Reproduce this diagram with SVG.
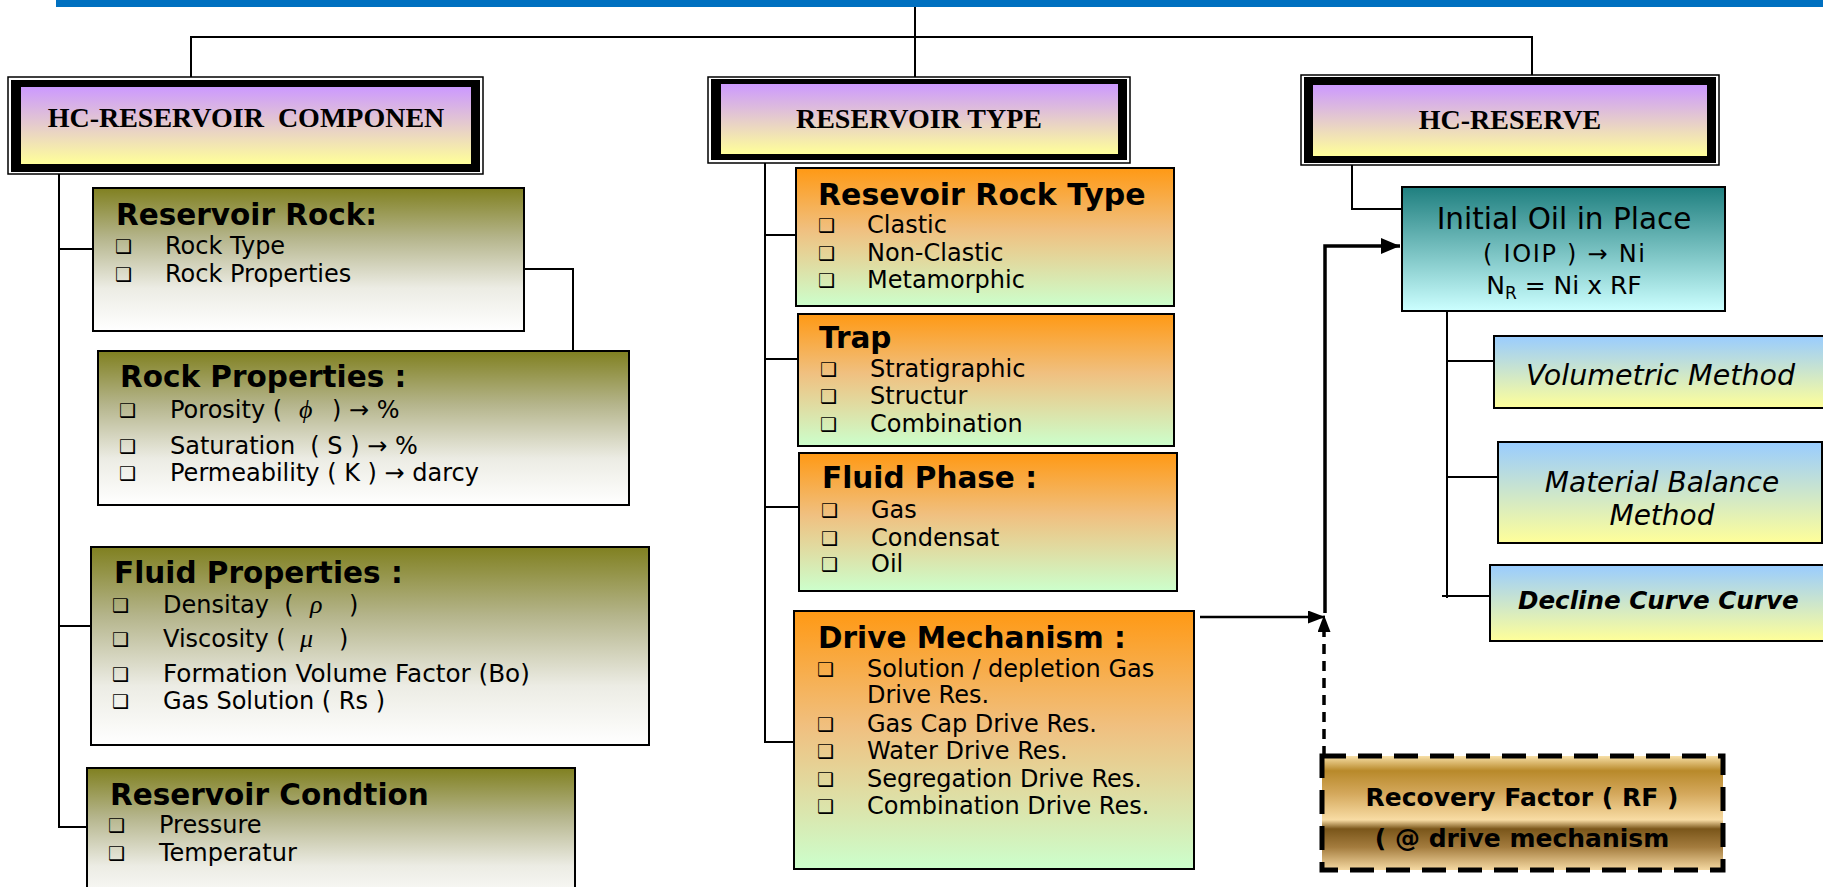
<svg xmlns="http://www.w3.org/2000/svg" width="1823" height="887" viewBox="0 0 1823 887">
<style>
.t{font-family:"DejaVu Sans",Verdana,sans-serif;font-size:24px;fill:#000;white-space:pre}
.h{font-weight:bold;font-size:29.5px}
.bl{font-family:"DejaVu Sans",sans-serif;font-size:19px;fill:#000}
.hd{font-family:"Liberation Serif","Times New Roman",serif;font-weight:bold;font-size:28px;text-anchor:middle;fill:#000;white-space:pre}
.gk{font-family:"Liberation Serif","Times New Roman",serif;font-style:italic;font-size:26px}
.ln{stroke:#000;stroke-width:2;fill:none}
.bx{stroke:#000;stroke-width:2}
.thin{fill:#fff;stroke:#000;stroke-width:1.5}
.mid{text-anchor:middle}
</style>
<defs>
<linearGradient id="gPur" x1="0" y1="0" x2="0" y2="1"><stop offset="0" stop-color="#CC99FF"/><stop offset="1" stop-color="#FFFF99"/></linearGradient>
<linearGradient id="gOl" x1="0" y1="0" x2="0" y2="1"><stop offset="0" stop-color="#808020"/><stop offset="0.35" stop-color="#B5B58C"/><stop offset="0.7" stop-color="#ECECE4"/><stop offset="1" stop-color="#FFFFFF"/></linearGradient>
<linearGradient id="gOr" x1="0" y1="0" x2="0" y2="1"><stop offset="0" stop-color="#FF9914"/><stop offset="0.45" stop-color="#F0C080"/><stop offset="1" stop-color="#CCFFCC"/></linearGradient>
<linearGradient id="gTe" x1="0" y1="0" x2="0" y2="1"><stop offset="0" stop-color="#1F7F7F"/><stop offset="1" stop-color="#CCFFFF"/></linearGradient>
<linearGradient id="gBl" x1="0" y1="0" x2="0" y2="1"><stop offset="0" stop-color="#99CCFF"/><stop offset="1" stop-color="#FFFF99"/></linearGradient>
<linearGradient id="gGo" x1="0" y1="0" x2="0" y2="1"><stop offset="0" stop-color="#F8E0A8"/><stop offset="0.13" stop-color="#B8892A"/><stop offset="0.33" stop-color="#D4A85C"/><stop offset="0.56" stop-color="#F8DCA4"/><stop offset="0.64" stop-color="#7A561A"/><stop offset="0.8" stop-color="#A47C3E"/><stop offset="1" stop-color="#F5D9A2"/></linearGradient>
<marker id="aThin" markerUnits="userSpaceOnUse" markerWidth="17" markerHeight="13" refX="17" refY="6.5" orient="auto"><path d="M0,0 L17,6.5 L0,13 z" fill="#000"/></marker>
<marker id="aThick" markerUnits="userSpaceOnUse" markerWidth="19" markerHeight="16" refX="19" refY="8" orient="auto"><path d="M0,0 L19,8 L0,16 z" fill="#000"/></marker>
</defs>
<rect x="0" y="0" width="1823" height="887" fill="#fff"/>
<rect id="topbar" x="56" y="0" width="1767" height="7" fill="#0070C0"/>

<g id="connectors">
<path class="ln" d="M915,7 V77 M191,77 V37 H1532 V77"/>
<path class="ln" d="M59,174 V828 M59,249 H93 M59,626 H91 M59,827 H87 M524,269 H573 V351"/>
<path class="ln" d="M765,163 V742 H794 M765,235 H796 M765,359 H802 M765,507 H800"/>
<path class="ln" d="M1352,165 V209 H1402 M1447,311 V598 M1447,361 H1494 M1447,477 H1498 M1442,596 H1490"/>
<path d="M1200,617 H1325" stroke="#000" stroke-width="2.5" fill="none" marker-end="url(#aThin)"/>
<path d="M1325,613 V246 H1400" stroke="#000" stroke-width="3.5" fill="none" marker-end="url(#aThick)"/>
<path d="M1324,756 V632" stroke="#000" stroke-width="3.5" stroke-dasharray="10 7" fill="none"/>
<path d="M1324,640 V615" stroke="none" fill="none" marker-end="url(#aThin)"/>
</g>

<g id="hc-reservoir-componen">
<rect class="thin" x="8" y="77" width="475" height="97"/>
<rect x="11" y="80" width="469" height="92" fill="#000"/>
<rect x="21" y="87" width="450" height="77" fill="url(#gPur)"/>
<text class="hd" x="246" y="127">HC-RESERVOIR  COMPONEN</text>
</g>
<g id="reservoir-type">
<rect class="thin" x="708" y="77" width="422" height="86"/>
<rect x="711" y="79" width="416" height="81" fill="#000"/>
<rect x="721" y="84" width="397" height="70" fill="url(#gPur)"/>
<text class="hd" x="919" y="128">RESERVOIR TYPE</text>
</g>
<g id="hc-reserve">
<rect class="thin" x="1301" y="75" width="418" height="90"/>
<rect x="1304" y="77" width="412" height="86" fill="#000"/>
<rect x="1313" y="85" width="394" height="71" fill="url(#gPur)"/>
<text class="hd" x="1510" y="129">HC-RESERVE</text>
</g>

<g id="reservoir-rock">
<rect class="bx" x="93" y="188" width="431" height="143" fill="url(#gOl)"/>
<text class="t h" x="116" y="225">Reservoir Rock:</text>
<text class="bl" x="115" y="253">❑</text><text class="t" x="165" y="254">Rock Type</text>
<text class="bl" x="115" y="281">❑</text><text class="t" x="165" y="282">Rock Properties</text>
</g>
<g id="rock-properties">
<rect class="bx" x="98" y="351" width="531" height="154" fill="url(#gOl)"/>
<text class="t h" x="120" y="387">Rock Properties :</text>
<text class="bl" x="119" y="417">❑</text><text class="t" x="170" y="418">Porosity (<tspan class="gk" x="299">ϕ</tspan><tspan x="332">) → %</tspan></text>
<text class="bl" x="119" y="453">❑</text><text class="t" x="170" y="454">Saturation  ( S ) → %</text>
<text class="bl" x="119" y="480">❑</text><text class="t" x="170" y="481">Permeability ( K ) → darcy</text>
</g>
<g id="fluid-properties">
<rect class="bx" x="91" y="547" width="558" height="198" fill="url(#gOl)"/>
<text class="t h" x="114" y="583">Fluid Properties :</text>
<text class="bl" x="112" y="612">❑</text><text class="t" x="163" y="613">Densitay  (<tspan class="gk" x="310">ρ</tspan><tspan x="349">)</tspan></text>
<text class="bl" x="112" y="646">❑</text><text class="t" x="163" y="647">Viscosity (<tspan class="gk" x="300">μ</tspan><tspan x="339">)</tspan></text>
<text class="bl" x="112" y="681">❑</text><text class="t" x="163" y="682" style="font-size:24.7px">Formation Volume Factor (Bo)</text>
<text class="bl" x="112" y="708">❑</text><text class="t" x="163" y="709">Gas Solution ( Rs )</text>
</g>
<g id="reservoir-condition">
<rect class="bx" x="87" y="768" width="488" height="140" fill="url(#gOl)"/>
<text class="t h" x="110" y="805">Reservoir Condtion</text>
<text class="bl" x="108" y="832">❑</text><text class="t" x="159" y="833">Pressure</text>
<text class="bl" x="108" y="860">❑</text><text class="t" x="159" y="861">Temperatur</text>
</g>

<g id="resevoir-rock-type">
<rect class="bx" x="796" y="168" width="378" height="138" fill="url(#gOr)"/>
<text class="t h" x="818" y="205" style="font-size:30px">Resevoir Rock Type</text>
<text class="bl" x="818" y="232">❑</text><text class="t" x="867" y="233">Clastic</text>
<text class="bl" x="818" y="260">❑</text><text class="t" x="867" y="261">Non-Clastic</text>
<text class="bl" x="818" y="287">❑</text><text class="t" x="867" y="288">Metamorphic</text>
</g>
<g id="trap">
<rect class="bx" x="798" y="314" width="376" height="132" fill="url(#gOr)"/>
<text class="t h" x="819" y="348">Trap</text>
<text class="bl" x="820" y="376">❑</text><text class="t" x="870" y="377">Stratigraphic</text>
<text class="bl" x="820" y="403">❑</text><text class="t" x="870" y="404">Structur</text>
<text class="bl" x="820" y="431">❑</text><text class="t" x="870" y="432">Combination</text>
</g>
<g id="fluid-phase">
<rect class="bx" x="799" y="453" width="378" height="138" fill="url(#gOr)"/>
<text class="t h" x="822" y="488">Fluid Phase :</text>
<text class="bl" x="821" y="517">❑</text><text class="t" x="871" y="518">Gas</text>
<text class="bl" x="821" y="545">❑</text><text class="t" x="871" y="546">Condensat</text>
<text class="bl" x="821" y="571">❑</text><text class="t" x="871" y="572">Oil</text>
</g>
<g id="drive-mechanism">
<rect class="bx" x="794" y="611" width="400" height="258" fill="url(#gOr)"/>
<text class="t h" x="818" y="648">Drive Mechanism :</text>
<text class="bl" x="817" y="676">❑</text><text class="t" x="867" y="677">Solution / depletion Gas</text>
<text class="t" x="867" y="703">Drive Res.</text>
<text class="bl" x="817" y="731">❑</text><text class="t" x="867" y="732">Gas Cap Drive Res.</text>
<text class="bl" x="817" y="758">❑</text><text class="t" x="867" y="759">Water Drive Res.</text>
<text class="bl" x="817" y="786">❑</text><text class="t" x="867" y="787">Segregation Drive Res.</text>
<text class="bl" x="817" y="813">❑</text><text class="t" x="867" y="814">Combination Drive Res.</text>
</g>

<g id="initial-oil-in-place">
<rect class="bx" x="1402" y="187" width="323" height="124" fill="url(#gTe)"/>
<text class="t mid" x="1564" y="229" style="font-size:29.5px">Initial Oil in Place</text>
<text class="t mid" x="1564" y="262" textLength="162" lengthAdjust="spacing">( IOIP ) → Ni</text>
<text class="t mid" x="1564" y="294" style="font-size:25px">N<tspan style="font-size:17px" dy="5">R</tspan><tspan dy="-5"> = Ni x RF</tspan></text>
</g>
<g id="volumetric-method">
<rect class="bx" x="1494" y="336" width="340" height="72" fill="url(#gBl)"/>
<text class="t" x="1526" y="385" style="font-size:28.5px;font-style:italic">Volumetric Method</text>
</g>
<g id="material-balance-method">
<rect class="bx" x="1498" y="442" width="324" height="101" fill="url(#gBl)"/>
<text class="t mid" x="1662" y="492" style="font-size:28px;font-style:italic">Material Balance</text>
<text class="t mid" x="1662" y="525" style="font-size:28px;font-style:italic">Method</text>
</g>
<g id="decline-curve">
<rect class="bx" x="1490" y="565" width="340" height="76" fill="url(#gBl)"/>
<text class="t" x="1518" y="609" style="font-size:24.6px;font-weight:bold;font-style:italic">Decline Curve Curve</text>
</g>
<g id="recovery-factor">
<rect x="1322" y="756" width="401" height="114" fill="url(#gGo)" stroke="#000" stroke-width="5" stroke-dasharray="24 12"/>
<text class="t mid" x="1522" y="806" style="font-size:25px;font-weight:bold">Recovery Factor ( RF )</text>
<text class="t mid" x="1522" y="847" style="font-size:25px;font-weight:bold">( @ drive mechanism</text>
</g>
</svg>
